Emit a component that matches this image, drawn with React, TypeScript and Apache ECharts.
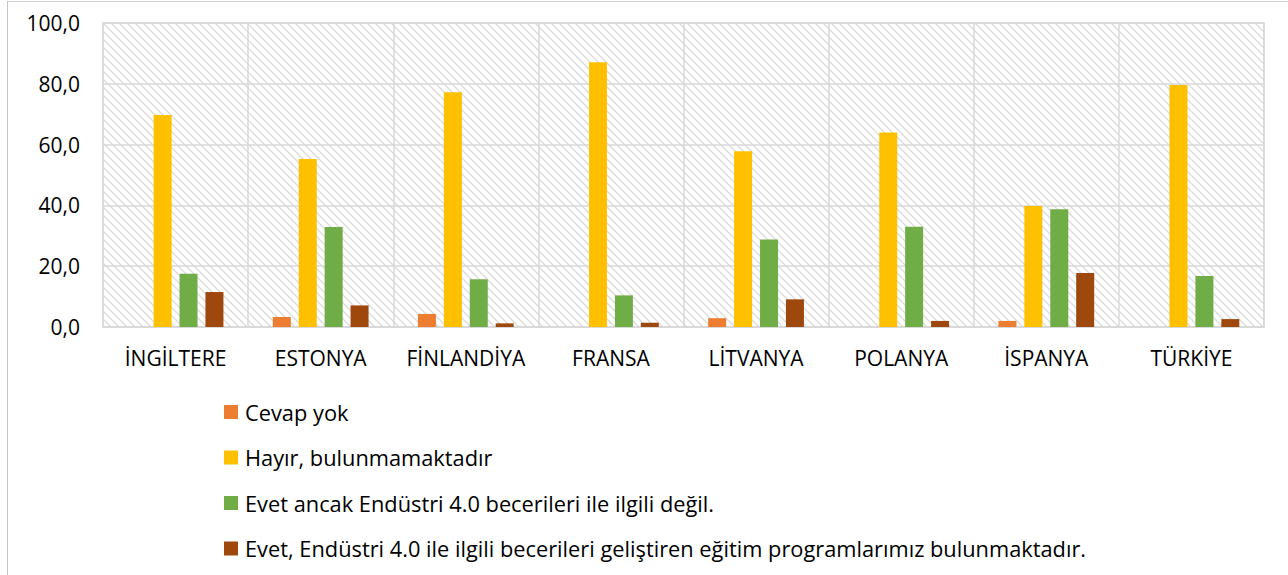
import React, { useEffect, useRef } from "react";
import * as echarts from "echarts";

const categories = ["İNGİLTERE", "ESTONYA", "FİNLANDİYA", "FRANSA", "LİTVANYA", "POLANYA", "İSPANYA", "TÜRKİYE"];
const seriesNames = [
  "Cevap yok",
  "Hayır, bulunmamaktadır",
  "Evet ancak Endüstri 4.0 becerileri ile ilgili değil.",
  "Evet, Endüstri 4.0 ile ilgili becerileri geliştiren eğitim programlarımız bulunmaktadır.",
];
const cevapYok = [0, 3.3, 4.3, 0, 2.9, 0, 2.0, 0];
const hayir = [69.7, 55.3, 77.2, 87.1, 57.8, 64.0, 39.8, 79.6];
const evetAncak = [17.5, 32.9, 15.7, 10.4, 28.8, 33.0, 38.7, 16.8];
const evetEndustri = [11.5, 7.1, 1.2, 1.4, 9.1, 2.0, 17.8, 2.6];
const colors = ["#ED7D31", "#FFC000", "#70AD47", "#9E480E"];

function makeHatch(): any {
  const c = document.createElement("canvas");
  c.width = 8;
  c.height = 8;
  const ctx = c.getContext("2d")!;
  ctx.fillStyle = "#ffffff";
  ctx.fillRect(0, 0, 8, 8);
  ctx.strokeStyle = "#dadada";
  ctx.lineWidth = 1.3;
  ctx.beginPath();
  ctx.moveTo(-2, -2);
  ctx.lineTo(10, 10);
  ctx.moveTo(-10, -2);
  ctx.lineTo(2, 10);
  ctx.moveTo(6, -2);
  ctx.lineTo(18, 10);
  ctx.stroke();
  return { image: c, repeat: "repeat", imageWidth: 8, imageHeight: 8 };
}

export default function App() {
  const ref = useRef<HTMLDivElement>(null);
  useEffect(() => {
    document.body.style.margin = "0";
    const chart = echarts.init(ref.current!, null, { renderer: "svg" });
    const font = "Open Sans";
    const dataSets = [cevapYok, hayir, evetAncak, evetEndustri];
    chart.setOption({
      animation: false,
      textStyle: { fontFamily: font },
      grid: {
        left: 103,
        top: 23,
        width: 1161,
        height: 304,
        show: true,
        borderColor: "#d9d9d9",
        borderWidth: 1.5,
        backgroundColor: makeHatch(),
      },
      legend: {
        orient: "vertical",
        left: 224,
        top: 401,
        padding: 0,
        itemWidth: 14,
        itemHeight: 14,
        itemGap: 23.5,
        icon: "rect",
        textStyle: { fontFamily: font, fontSize: 21.8, color: "#000", lineHeight: 22, padding: [0, 0, 0, 2] },
        data: seriesNames,
      },
      xAxis: {
        type: "category",
        data: categories,
        axisLine: { show: true, lineStyle: { color: "#d9d9d9", width: 1.5 } },
        axisTick: { show: false },
        splitLine: { show: true, interval: 0, lineStyle: { color: "#d9d9d9", width: 1.5 } },
        axisLabel: { color: "#000", fontSize: 21, fontFamily: font, margin: 20, interval: 0 },
      },
      yAxis: {
        type: "value",
        min: 0,
        max: 100,
        interval: 20,
        axisLine: { show: false },
        axisTick: { show: false },
        splitLine: { show: true, lineStyle: { color: "#d9d9d9", width: 1.5 } },
        axisLabel: {
          color: "#000",
          fontSize: 21,
          fontFamily: font,
          margin: 23,
          formatter: (v: number) => v.toFixed(1).replace(".", ","),
        },
      },
      series: seriesNames.map((name, i) => ({
        name,
        type: "bar",
        data: dataSets[i],
        barWidth: 18,
        barGap: "44%",
        itemStyle: { color: colors[i] },
      })),
    });
    return () => chart.dispose();
  }, []);
  return (
    <div style={{ position: "relative", width: 1288, height: 575, overflow: "hidden", background: "#fff" }}>
      <div ref={ref} style={{ position: "absolute", left: 0, top: 0, width: 1288, height: 575 }} />
      <div
        style={{
          position: "absolute",
          left: 7,
          top: 1,
          width: 1400,
          height: 700,
          borderTop: "1.5px solid #d0d0d0",
          borderLeft: "1.5px solid #c4c4c4",
          pointerEvents: "none",
        }}
      />
    </div>
  );
}
